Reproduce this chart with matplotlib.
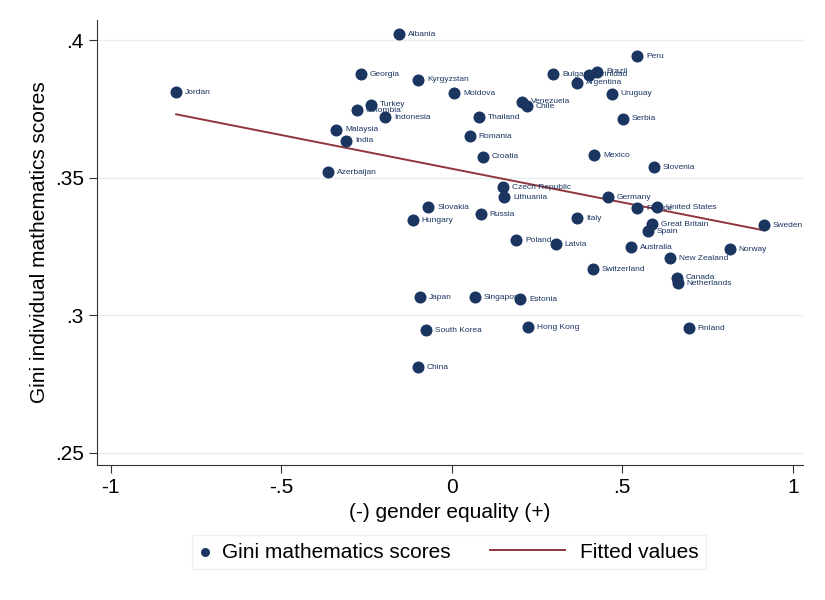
import numpy as np
import matplotlib
matplotlib.use("Agg")
import matplotlib.pyplot as plt
from matplotlib.lines import Line2D
from matplotlib.legend_handler import HandlerBase

# DATA ######
countries = ["Albania", "Peru", "Georgia", "Kyrgyzstan", "Bulgaria", "Trinidad", "Brazil",
             "Argentina", "Uruguay", "Venezuela", "Chile", "Thailand", "Serbia", "Moldova",
             "Jordan", "Turkey", "Colombia", "Indonesia", "Malaysia", "India", "Romania",
             "Croatia", "Mexico", "Slovenia", "Azerbaijan", "Czech Republic", "Lithuania",
             "Germany", "France", "United States", "Great Britain", "Spain", "Sweden",
             "Australia", "Norway", "New Zealand", "Switzerland", "Canada", "Netherlands",
             "Finland", "Slovakia", "Hungary", "Russia", "Italy", "Poland", "Latvia",
             "Japan", "Singapore", "Estonia", "South Korea", "Hong Kong", "China"]
gender_eq = [-0.155, 0.543, -0.266, -0.099, 0.297, 0.403, 0.426,
             0.367, 0.469, 0.206, 0.220, 0.080, 0.502, 0.007,
             -0.808, -0.237, -0.278, -0.196, -0.339, -0.310, 0.053,
             0.091, 0.417, 0.593, -0.363, 0.150, 0.153,
             0.458, 0.543, 0.601, 0.587, 0.575, 0.915,
             0.525, 0.815, 0.639, 0.414, 0.660, 0.663,
             0.695, -0.069, -0.114, 0.085, 0.367, 0.190, 0.305,
             -0.093, 0.068, 0.200, -0.076, 0.223, -0.099]
gini_math = [0.4022, 0.3942, 0.3876, 0.3855, 0.3876, 0.3873, 0.3884,
             0.3844, 0.3804, 0.3775, 0.3760, 0.3720, 0.3713, 0.3807,
             0.3811, 0.3764, 0.3745, 0.3720, 0.3673, 0.3633, 0.3651,
             0.3575, 0.3582, 0.3538, 0.3520, 0.3465, 0.3429,
             0.3429, 0.3389, 0.3393, 0.3331, 0.3305, 0.3327,
             0.3247, 0.3240, 0.3207, 0.3167, 0.3135, 0.3116,
             0.2953, 0.3393, 0.3345, 0.3367, 0.3353, 0.3273, 0.3258,
             0.3065, 0.3065, 0.3058, 0.2945, 0.2956, 0.2811]
x_ticks = [-1, -0.5, 0, 0.5, 1]
x_ticklabels = ["-1", "-.5", "0", ".5", "1"]
y_ticks = [0.25, 0.3, 0.35, 0.4]
y_ticklabels = [".25", ".3", ".35", ".4"]

navy = "#1a3560"
maroon = "#90353b"

plt.rcParams['font.family'] = ['Liberation Sans', 'DejaVu Sans']


# legend line handle that reaches further left than the (short) handle box
class LongLine(HandlerBase):
    def create_artists(self, legend, orig_handle, xdescent, ydescent,
                       width, height, fontsize, trans):
        yy = (height - ydescent) / 2
        line = Line2D([-xdescent - 3.23 * fontsize, -xdescent + width - 0.18 * fontsize],
                      [yy, yy])
        self.update_prop(line, orig_handle, legend)
        line.set_transform(trans)
        return [line]


x = np.array(gender_eq)
y = np.array(gini_math)
b, a = np.polyfit(x, y, 1)
xf = np.array([x.min(), x.max()])

fig = plt.figure(figsize=(8.25, 6), dpi=100)
ax = fig.add_axes([0.1176, 0.225, 0.8557, 0.7417])

for yt in y_ticks:
    ax.axhline(yt, color="#e6eef0", lw=1.0, zorder=0)

sc = ax.scatter(x, y, s=75, color=navy, zorder=3, linewidths=0)
ln, = ax.plot(xf, a + b * xf, color=maroon, lw=1.4, zorder=2)
for name, xi, yi in zip(countries, x, y):
    ax.annotate(name, (xi, yi), xytext=(6.5, 0), textcoords="offset points",
                fontsize=6, color=navy, va="center", ha="left", zorder=4)

ax.set_xlim(-1.04, 1.03)
ax.set_ylim(0.2455, 0.4073)
ax.set_xticks(x_ticks)
ax.set_xticklabels(x_ticklabels)
ax.set_yticks(y_ticks)
ax.set_yticklabels(y_ticklabels)
ax.tick_params(labelsize=15, length=6, width=0.8, color="#333333")
ax.spines["top"].set_visible(False)
ax.spines["right"].set_visible(False)
for s in ["left", "bottom"]:
    ax.spines[s].set_color("#333333")
    ax.spines[s].set_linewidth(0.8)
ax.set_xlabel("(-) gender equality (+)", fontsize=15)
ax.set_ylabel("Gini individual mathematics scores", fontsize=15)

leg = fig.legend([sc, ln], ["Gini mathematics scores", "Fitted values"],
                 loc="center", bbox_to_anchor=(0.544, 0.08), ncol=2, fontsize=15,
                 frameon=True, fancybox=False, edgecolor="#e6eef0",
                 borderpad=0.35, handlelength=0.55, handletextpad=0.54,
                 columnspacing=5.15, scatterpoints=1, markerscale=0.75,
                 handler_map={ln: LongLine()})
leg.get_frame().set_linewidth(1.0)

fig.savefig("out.png", dpi=100)
